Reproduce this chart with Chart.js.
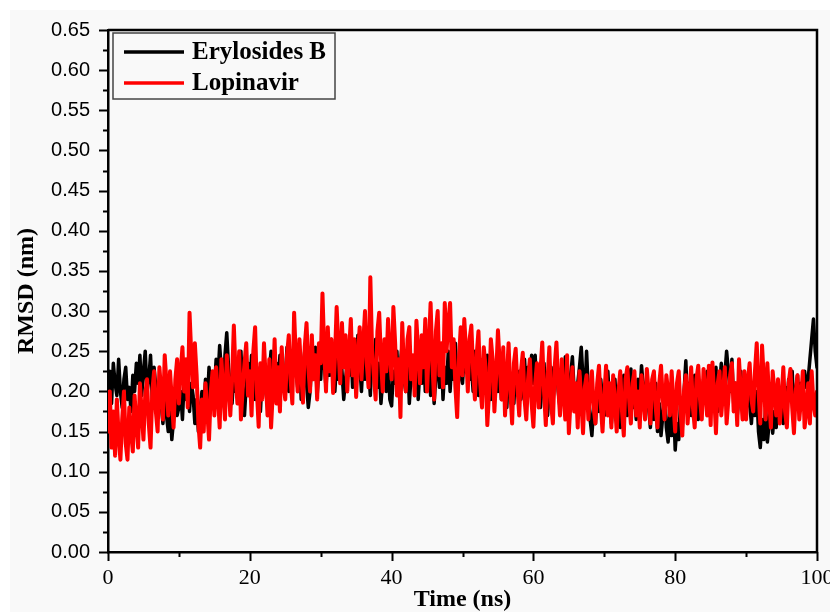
<!DOCTYPE html>
<html>
<head>
<meta charset="utf-8">
<script src="https://cdn.jsdelivr.net/npm/chart.js@4.4.1/dist/chart.umd.min.js"></script>
<style>
  body { margin: 0; background: #fff; }
</style>
</head>
<body>
<canvas id="rmsdChart" width="830" height="612"></canvas>
<script>
// samples every 0.25 ns, 0 -> 100 ns (one row = 5 ns)
const timeStep = 0.25;
const seriesNames = ['Erylosides B', 'Lopinavir'];
const seriesColors = ['#000000', '#ff0000'];
const seriesWidths = [3.5, 4];

const erylosidesB = [
    0.2, 0.225, 0.185, 0.235, 0.21, 0.195, 0.24, 0.2, 0.18, 0.215, 0.23, 0.19, 0.205, 0.175, 0.22, 0.2, 0.235, 0.21, 0.245, 0.195,
    0.225, 0.25, 0.2, 0.215, 0.245, 0.19, 0.23, 0.205, 0.175, 0.21, 0.185, 0.16, 0.2, 0.17, 0.15, 0.185, 0.14, 0.165, 0.19, 0.17,
    0.18, 0.2, 0.165, 0.215, 0.19, 0.225, 0.175, 0.21, 0.195, 0.16, 0.19, 0.15, 0.175, 0.2, 0.17, 0.215, 0.185, 0.23, 0.2, 0.215,
    0.2, 0.24, 0.215, 0.257, 0.225, 0.2, 0.245, 0.273, 0.23, 0.205, 0.185, 0.225, 0.2, 0.24, 0.215, 0.25, 0.195, 0.17, 0.21, 0.235,
    0.2, 0.245, 0.215, 0.19, 0.23, 0.205, 0.175, 0.22, 0.24, 0.2, 0.185, 0.225, 0.25, 0.215, 0.195, 0.235, 0.21, 0.245, 0.2, 0.23,
    0.215, 0.255, 0.2, 0.235, 0.22, 0.26, 0.23, 0.205, 0.245, 0.19, 0.225, 0.25, 0.21, 0.18, 0.2, 0.24, 0.215, 0.255, 0.195, 0.23,
    0.215, 0.26, 0.235, 0.205, 0.245, 0.22, 0.265, 0.23, 0.2, 0.24, 0.215, 0.255, 0.225, 0.19, 0.215, 0.235, 0.22, 0.26, 0.205, 0.24,
    0.22, 0.27, 0.235, 0.2, 0.245, 0.215, 0.26, 0.23, 0.195, 0.25, 0.22, 0.265, 0.205, 0.235, 0.185, 0.215, 0.25, 0.2, 0.24, 0.19,
    0.182, 0.225, 0.21, 0.25, 0.195, 0.235, 0.26, 0.215, 0.2, 0.245, 0.185, 0.22, 0.24, 0.205, 0.255, 0.19, 0.23, 0.21, 0.26, 0.2,
    0.215, 0.25, 0.195, 0.235, 0.185, 0.22, 0.245, 0.205, 0.255, 0.19, 0.23, 0.21, 0.25, 0.2, 0.24, 0.215, 0.26, 0.205, 0.235, 0.22,
    0.21, 0.245, 0.225, 0.26, 0.215, 0.235, 0.2, 0.25, 0.22, 0.195, 0.24, 0.21, 0.23, 0.2, 0.245, 0.215, 0.19, 0.225, 0.205, 0.235,
    0.2, 0.24, 0.19, 0.22, 0.205, 0.18, 0.23, 0.195, 0.215, 0.185, 0.235, 0.2, 0.225, 0.19, 0.21, 0.24, 0.2, 0.23, 0.195, 0.245,
    0.21, 0.245, 0.195, 0.225, 0.18, 0.21, 0.235, 0.19, 0.17, 0.205, 0.23, 0.185, 0.215, 0.24, 0.2, 0.18, 0.22, 0.195, 0.243, 0.205,
    0.185, 0.22, 0.243, 0.2, 0.175, 0.21, 0.23, 0.255, 0.215, 0.19, 0.25, 0.2, 0.165, 0.145, 0.18, 0.16, 0.2, 0.175, 0.215, 0.19,
    0.17, 0.2, 0.225, 0.185, 0.16, 0.195, 0.215, 0.175, 0.205, 0.155, 0.185, 0.22, 0.19, 0.17, 0.21, 0.228, 0.18, 0.2, 0.165, 0.215,
    0.19, 0.232, 0.205, 0.175, 0.22, 0.18, 0.155, 0.195, 0.165, 0.21, 0.15, 0.185, 0.145, 0.17, 0.2, 0.155, 0.137, 0.175, 0.145, 0.19,
    0.127, 0.16, 0.14, 0.185, 0.155, 0.2, 0.238, 0.18, 0.21, 0.17, 0.195, 0.22, 0.185, 0.165, 0.205, 0.175, 0.215, 0.19, 0.225, 0.2,
    0.18, 0.215, 0.195, 0.23, 0.175, 0.205, 0.235, 0.2, 0.22, 0.25, 0.225, 0.2, 0.24, 0.185, 0.21, 0.17, 0.195, 0.225, 0.18, 0.2,
    0.175, 0.21, 0.185, 0.16, 0.195, 0.17, 0.2, 0.15, 0.13, 0.165, 0.14, 0.18, 0.137, 0.16, 0.19, 0.148, 0.175, 0.155, 0.2, 0.17,
    0.185, 0.16, 0.205, 0.175, 0.215, 0.19, 0.225, 0.17, 0.2, 0.22, 0.18, 0.21, 0.195, 0.225, 0.205, 0.215, 0.24, 0.265, 0.29, 0.25,
    0.23
];

const lopinavir = [
    0.15, 0.2, 0.13, 0.175, 0.12, 0.19, 0.145, 0.115, 0.165, 0.2, 0.135, 0.115, 0.18, 0.15, 0.125, 0.195, 0.16, 0.13, 0.21, 0.175,
    0.14, 0.195, 0.215, 0.16, 0.13, 0.2, 0.225, 0.175, 0.15, 0.23, 0.2, 0.165, 0.245, 0.21, 0.17, 0.225, 0.19, 0.155, 0.215, 0.24,
    0.185, 0.225, 0.255, 0.2, 0.24, 0.18, 0.298, 0.245, 0.205, 0.26, 0.22, 0.16, 0.13, 0.19, 0.15, 0.21, 0.175, 0.14, 0.2, 0.225,
    0.17, 0.23, 0.195, 0.155, 0.24, 0.2, 0.165, 0.245, 0.21, 0.17, 0.215, 0.282, 0.22, 0.185, 0.25, 0.165, 0.205, 0.235, 0.26, 0.195,
    0.225, 0.17, 0.25, 0.28, 0.2, 0.156, 0.235, 0.19, 0.26, 0.215, 0.17, 0.24, 0.155, 0.2, 0.265, 0.185, 0.23, 0.175, 0.255, 0.21,
    0.19, 0.245, 0.27, 0.215, 0.185, 0.298, 0.24, 0.2, 0.265, 0.225, 0.186, 0.255, 0.285, 0.23, 0.2, 0.27, 0.215, 0.245, 0.19, 0.26,
    0.235, 0.322, 0.25, 0.2, 0.28, 0.225, 0.265, 0.198, 0.24, 0.305, 0.255, 0.21, 0.285, 0.23, 0.27, 0.2, 0.25, 0.29, 0.22, 0.265,
    0.193, 0.245, 0.28, 0.215, 0.26, 0.3, 0.235, 0.205, 0.342, 0.25, 0.22, 0.19, 0.275, 0.298, 0.24, 0.2, 0.265, 0.225, 0.29, 0.245,
    0.215, 0.305, 0.26, 0.195, 0.24, 0.168, 0.285, 0.225, 0.2, 0.265, 0.28, 0.215, 0.245, 0.195, 0.288, 0.25, 0.21, 0.27, 0.23, 0.29,
    0.2, 0.255, 0.31, 0.235, 0.19, 0.275, 0.3, 0.22, 0.26, 0.205, 0.31, 0.25, 0.285, 0.31, 0.23, 0.265, 0.205, 0.168, 0.24, 0.28,
    0.22, 0.29, 0.25, 0.2, 0.265, 0.282, 0.225, 0.19, 0.245, 0.275, 0.21, 0.18, 0.255, 0.23, 0.158, 0.2, 0.265, 0.24, 0.175, 0.22,
    0.276, 0.235, 0.19, 0.255, 0.17, 0.215, 0.26, 0.2, 0.16, 0.235, 0.253, 0.205, 0.17, 0.225, 0.248, 0.19, 0.165, 0.215, 0.24, 0.185,
    0.156, 0.21, 0.235, 0.18, 0.225, 0.261, 0.2, 0.158, 0.215, 0.255, 0.185, 0.16, 0.23, 0.261, 0.205, 0.17, 0.24, 0.195, 0.165, 0.245,
    0.148, 0.19, 0.23, 0.175, 0.21, 0.155, 0.225, 0.19, 0.148, 0.205, 0.22, 0.165, 0.2, 0.225, 0.18, 0.16, 0.21, 0.232, 0.185, 0.15,
    0.195, 0.232, 0.17, 0.21, 0.155, 0.22, 0.185, 0.15, 0.2, 0.225, 0.175, 0.145, 0.215, 0.23, 0.19, 0.16, 0.21, 0.225, 0.17, 0.2,
    0.155, 0.22, 0.19, 0.165, 0.228, 0.2, 0.16, 0.215, 0.225, 0.18, 0.155, 0.21, 0.232, 0.19, 0.165, 0.22, 0.2, 0.17, 0.225, 0.185,
    0.15, 0.21, 0.225, 0.175, 0.145, 0.2, 0.22, 0.16, 0.195, 0.23, 0.18, 0.155, 0.215, 0.232, 0.19, 0.165, 0.228, 0.2, 0.17, 0.232,
    0.158, 0.236, 0.195, 0.148, 0.21, 0.225, 0.17, 0.2, 0.23, 0.16, 0.19, 0.22, 0.235, 0.175, 0.21, 0.158, 0.24, 0.2, 0.165, 0.225,
    0.165, 0.215, 0.235, 0.19, 0.175, 0.225, 0.26, 0.2, 0.16, 0.257, 0.215, 0.165, 0.235, 0.19, 0.155, 0.225, 0.2, 0.17, 0.215, 0.16,
    0.19, 0.23, 0.175, 0.155, 0.21, 0.228, 0.18, 0.148, 0.2, 0.22, 0.165, 0.19, 0.225, 0.155, 0.175, 0.21, 0.16, 0.225, 0.185, 0.17,
    0.2
];

const xMajorTicks = [0, 20, 40, 60, 80, 100];
const xMinorTicks = [10, 30, 50, 70, 90];
const yMax = 0.65;
const yStep = 0.05;

function toPoints(values) {
    return values.map((v, i) => ({x: i * timeStep, y: v}));
}

// gray panel behind everything, like the exported figure
const backdrop = {
    id: 'backdrop',
    beforeDraw(chart) {
        const ctx = chart.ctx;
        ctx.save();
        ctx.fillStyle = '#ffffff';
        ctx.fillRect(0, 0, chart.width, chart.height);
        ctx.fillStyle = '#f9f9f9';
        ctx.fillRect(10, 10, chart.width - 10, chart.height - 10);
        ctx.restore();
    }
};

// outward ticks (major + minor) and the closed frame
const frameTicks = {
    id: 'frameTicks',
    afterDraw(chart) {
        const {ctx, chartArea: a, scales: {x, y}} = chart;
        ctx.save();
        ctx.strokeStyle = '#000';
        ctx.lineWidth = 2;
        ctx.beginPath();
        for (let k = 0; k * yStep <= yMax + 1e-9; k++) {
            const py = Math.round(y.getPixelForValue(k * yStep)) + 0.5;
            ctx.moveTo(a.left, py); ctx.lineTo(a.left - 9, py);
            if ((k + 0.5) * yStep < yMax) {
                const pm = Math.round(y.getPixelForValue((k + 0.5) * yStep)) + 0.5;
                ctx.moveTo(a.left, pm); ctx.lineTo(a.left - 5, pm);
            }
        }
        xMajorTicks.forEach(t => {
            const px = Math.round(x.getPixelForValue(t)) + 0.5;
            ctx.moveTo(px, a.bottom); ctx.lineTo(px, a.bottom + 9);
        });
        xMinorTicks.forEach(t => {
            const px = Math.round(x.getPixelForValue(t)) + 0.5;
            ctx.moveTo(px, a.bottom); ctx.lineTo(px, a.bottom + 5);
        });
        ctx.stroke();
        ctx.lineWidth = 2.5;
        ctx.beginPath();
        ctx.moveTo(a.left, a.top); ctx.lineTo(a.right, a.top); ctx.lineTo(a.right, a.bottom);
        ctx.stroke();
        ctx.restore();
    }
};

// boxed legend in the top-left corner of the plot
const legendBox = {
    id: 'legendBox',
    afterDraw(chart) {
        const ctx = chart.ctx;
        const a = chart.chartArea;
        const x0 = a.left + 5, y0 = a.top + 3;
        ctx.save();
        ctx.fillStyle = '#f9f9f9';
        ctx.fillRect(x0, y0, 222, 66);
        ctx.strokeStyle = '#444';
        ctx.lineWidth = 1.5;
        ctx.strokeRect(x0, y0, 222, 66);
        seriesNames.forEach((name, i) => {
            const ly = y0 + 19 + i * 31;
            ctx.strokeStyle = seriesColors[i];
            ctx.lineWidth = 3.5;
            ctx.beginPath();
            ctx.moveTo(x0 + 11, ly); ctx.lineTo(x0 + 71, ly);
            ctx.stroke();
            ctx.fillStyle = '#000';
            ctx.font = 'bold 25px "Liberation Serif"';
            ctx.textBaseline = 'middle';
            ctx.fillText(name, x0 + 79, ly + 1);
        });
        ctx.restore();
    }
};

function drawChart() {
    const ctx = document.getElementById('rmsdChart');
    new Chart(ctx, {
        type: 'line',
        data: {
            datasets: [
                {label: seriesNames[0], data: toPoints(erylosidesB), borderColor: seriesColors[0], borderWidth: seriesWidths[0], order: 1},
                {label: seriesNames[1], data: toPoints(lopinavir), borderColor: seriesColors[1], borderWidth: seriesWidths[1], order: 0}
            ]
        },
        options: {
            responsive: false,
            animation: false,
            layout: {padding: {left: 0, top: 29, right: 13, bottom: 0}},
            elements: {
                point: {radius: 0},
                line: {tension: 0, borderJoinStyle: 'round', borderCapStyle: 'round'}
            },
            plugins: {
                legend: {display: false},
                tooltip: {enabled: false}
            },
            scales: {
                x: {
                    type: 'linear',
                    min: 0,
                    max: 100,
                    afterFit: s => { s.height = 60; s.paddingLeft = 0; s.paddingRight = 0; },
                    grid: {display: false, drawTicks: false},
                    border: {display: true, color: '#000', width: 2.5},
                    ticks: {
                        stepSize: 20,
                        padding: 13,
                        color: '#000',
                        maxRotation: 0,
                        font: {family: '"Liberation Serif"', size: 22}
                    },
                    title: {
                        display: true,
                        text: 'Time (ns)',
                        color: '#000',
                        padding: {top: 0, bottom: 0},
                        font: {family: '"Liberation Serif"', size: 24, weight: 'bold', lineHeight: 1}
                    }
                },
                y: {
                    min: 0,
                    max: yMax,
                    afterFit: s => { s.width = 108; },
                    grid: {display: false, drawTicks: false},
                    border: {display: true, color: '#000', width: 2.5},
                    ticks: {
                        stepSize: yStep,
                        padding: 18,
                        color: '#000',
                        font: {family: '"Liberation Sans"', size: 20},
                        callback: v => v.toFixed(2)
                    },
                    title: {
                        display: true,
                        text: 'RMSD (nm)',
                        color: '#000',
                        padding: {top: 12, bottom: 0},
                        font: {family: '"Liberation Serif"', size: 24, weight: 'bold', lineHeight: 1.2}
                    }
                }
            }
        },
        plugins: [backdrop, frameTicks, legendBox]
    });
}

window.addEventListener('load', evt => drawChart());
</script>
</body>
</html>
